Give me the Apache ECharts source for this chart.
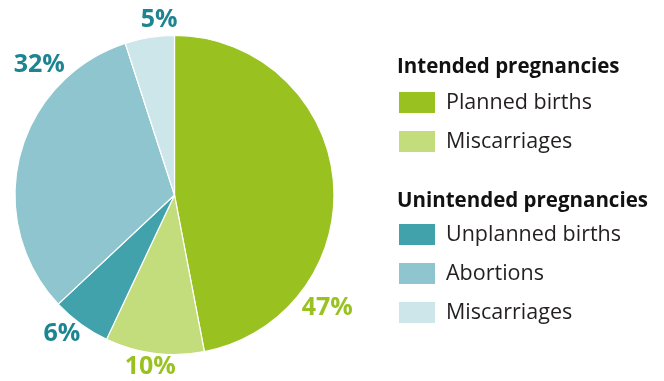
<!DOCTYPE html>
<html><head><meta charset="utf-8">
<script src="https://cdn.jsdelivr.net/npm/echarts@6/dist/echarts.min.js"></script>
<style>html,body{margin:0;padding:0;background:#fff}#c{width:664px;height:381px}</style>
</head><body><div id="c"></div>
<script>
const sliceKeys = ['Planned births', 'Miscarriages (intended)', 'Unplanned births', 'Abortions', 'Miscarriages (unintended)'];
const sliceLabels = ['Planned births', 'Miscarriages', 'Unplanned births', 'Abortions', 'Miscarriages'];
const sliceValues = [47, 10, 6, 32, 5];
const groupTitles = ['Intended pregnancies', 'Unintended pregnancies'];
const intendedKeys = ['Planned births', 'Miscarriages (intended)'];
const unintendedKeys = ['Unplanned births', 'Abortions', 'Miscarriages (unintended)'];

const colors = ['#99c221', '#c3dc7c', '#41a2ab', '#8fc5ce', '#cde6e9'];
const labelColors = ['#99c221', '#99c221', '#1d8591', '#1d8591', '#1d8591'];
// label placement (angle clockwise from top in degrees, distance from centre in px)
const labelAngles = [126.5, 188, 219, 314, 355];
const labelDist = [190, 174, 179, 188, 176];
const CX = 174.5, CY = 195, R = 159.5;
const FONT = 'Open Sans';

const chart = echarts.init(document.getElementById('c'), null, {renderer: 'canvas'});
const keyToLabel = {};
sliceKeys.forEach((k, i) => keyToLabel[k] = sliceLabels[i]);

const legendBase = {
  orient: 'vertical', left: 397, padding: 0, itemWidth: 38, itemHeight: 23, itemGap: 14,
  icon: 'rect', selectedMode: false,
  formatter: n => keyToLabel[n],
  textStyle: {fontFamily: FONT, fontSize: 21.5, lineHeight: 23, color: '#231f20', padding: [0, 0, 0, 5]}
};

chart.setOption({
  animation: false,
  title: [
    {text: groupTitles[0], left: 397, top: 57, padding: 0, textStyle: {fontFamily: FONT, fontSize: 20.5, fontWeight: 'bold', color: '#111'}},
    {text: groupTitles[1], left: 397, top: 191, padding: 0, textStyle: {fontFamily: FONT, fontSize: 20.5, fontWeight: 'bold', color: '#111'}}
  ],
  legend: [
    Object.assign({}, legendBase, {top: 90, data: intendedKeys}),
    Object.assign({}, legendBase, {top: 222, data: unintendedKeys})
  ],
  series: [{
    type: 'pie',
    center: [CX, CY],
    radius: [0, R],
    startAngle: 90,
    clockwise: true,
    silent: true,
    itemStyle: {borderColor: '#fff', borderWidth: 1.2},
    label: {show: true, position: 'inside', overflow: 'none', formatter: '{c}%', fontFamily: FONT, fontSize: 25, fontWeight: 'bold'},
    labelLine: {show: false},
    labelLayout: function (p) {
      const i = p.dataIndex;
      const a = labelAngles[i] * Math.PI / 180;
      return {x: CX + labelDist[i] * Math.sin(a), y: CY - labelDist[i] * Math.cos(a), align: 'center', verticalAlign: 'middle', hideOverlap: false};
    },
    data: sliceKeys.map((k, i) => ({
      name: k, value: sliceValues[i],
      itemStyle: {color: colors[i]},
      label: {color: labelColors[i]}
    }))
  }]
});
</script></body></html>
